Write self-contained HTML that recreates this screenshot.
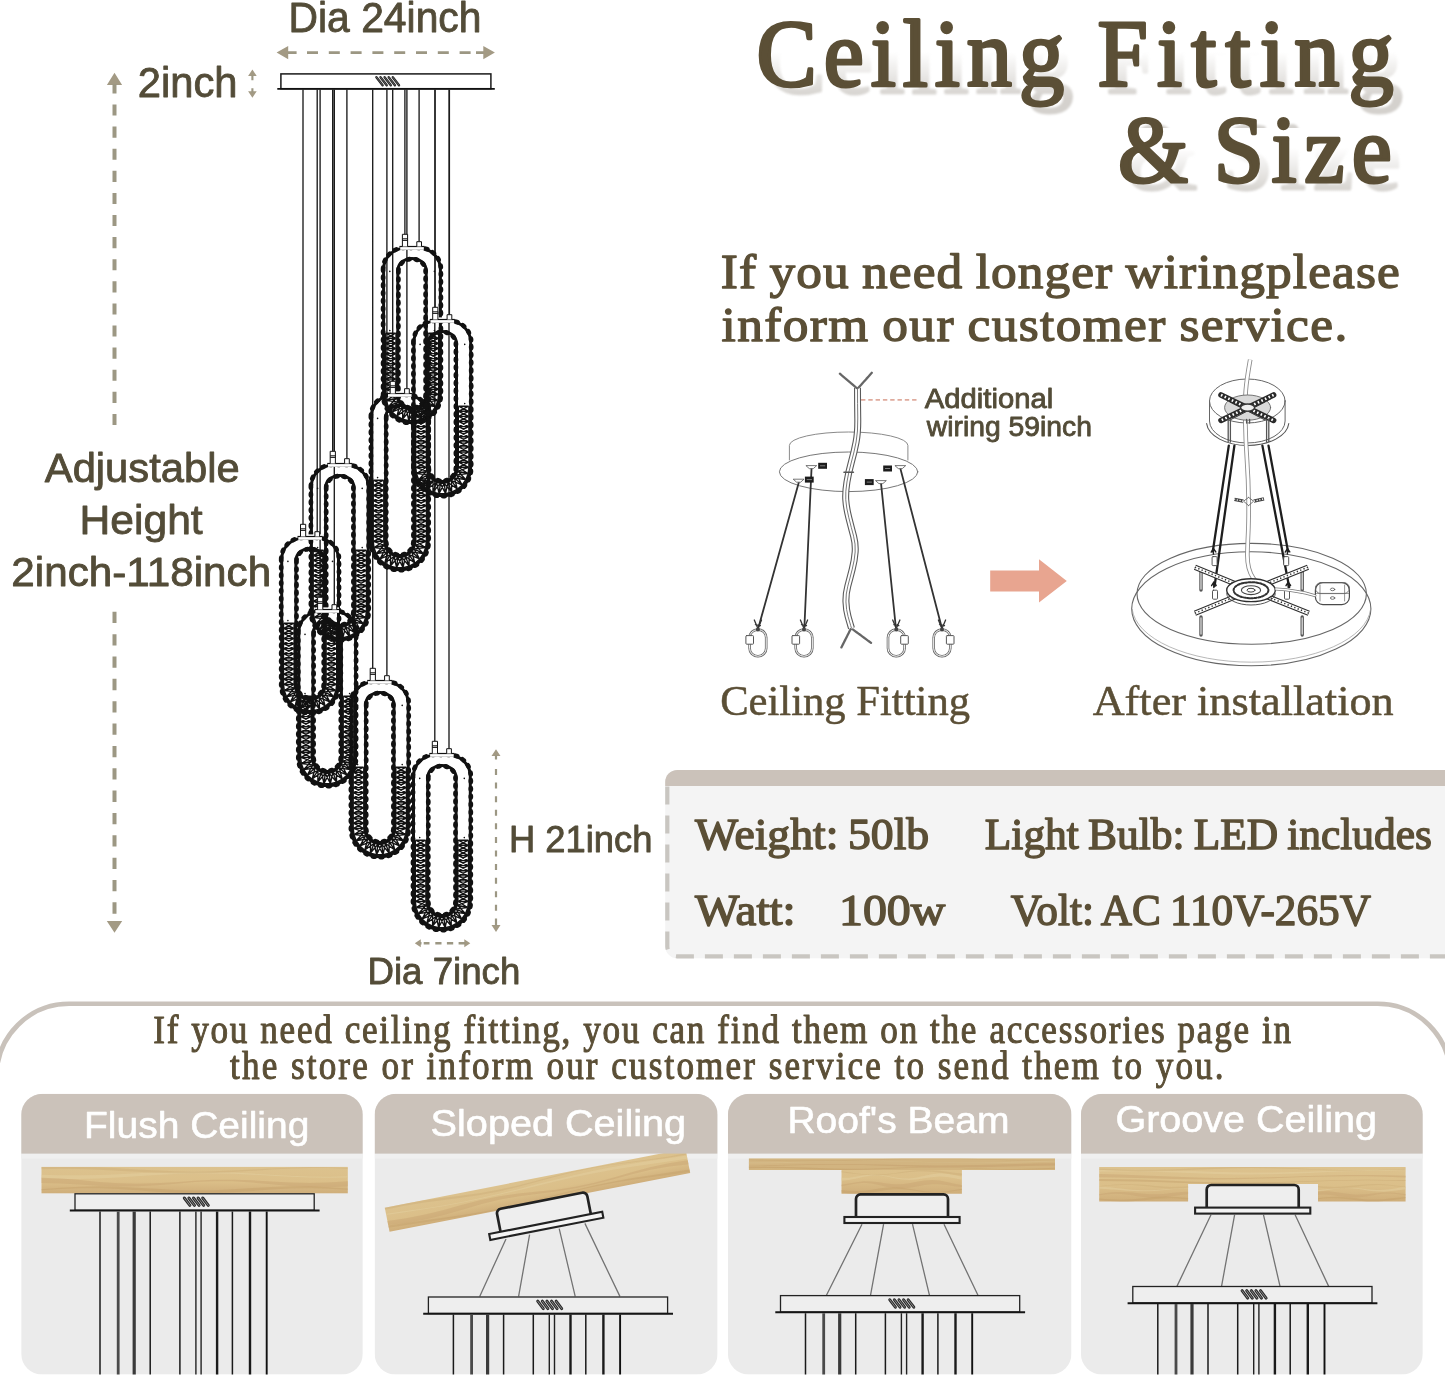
<!DOCTYPE html>
<html lang="en">
<head>
<meta charset="utf-8">
<title>Ceiling Fitting &amp; Size</title>
<style>
html,body{margin:0;padding:0;background:#fff;}
body{width:1445px;height:1377px;overflow:hidden;position:relative;}
#page{position:absolute;left:0;top:0;width:1445px;height:1377px;display:block;}
text{will-change:transform;}
.ss{font-family:"Liberation Sans",Arial,sans-serif;fill:#534c38;stroke:#534c38;stroke-linejoin:round;stroke-width:0;}
.sf{font-family:"Liberation Serif","Times New Roman",serif;fill:#5b4f36;stroke:#5b4f36;stroke-linejoin:round;stroke-width:0;}
</style>
</head>
<body>
<svg id="page" width="1445" height="1377" viewBox="0 0 1445 1377">
<defs><g id="ring"><path d="M3 23.9A21 21 0 0 1 24 2.9H38.8A21 21 0 0 1 59.8 23.9V148.9A28.4 28.4 0 0 1 3 148.9Z" fill="none" stroke="#111" stroke-width="3"/><path d="M2.5 23.9A21.5 21.5 0 0 1 24 2.4H38.8A21.5 21.5 0 0 1 60.3 23.9V148.9A28.9 28.9 0 0 1 2.5 148.9Z" fill="none" stroke="#111" stroke-width="4.7" stroke-linecap="round" stroke-dasharray="1.8 6"/><path d="M17.2 25.21A14.2 12.21 0 0 1 45.6 25.21V149A14.2 14.2 0 0 1 17.2 149Z" fill="none" stroke="#111" stroke-width="3"/><path d="M17.8 25.3A13.6 11.7 0 0 1 45 25.3V149A13.6 13.6 0 0 1 17.8 149Z" fill="none" stroke="#111" stroke-width="4.7" stroke-linecap="round" stroke-dasharray="1.8 6"/><path d="M19.6 -1V4.4H43.2V-1Z" fill="#fff"/><path d="M18.8 1.1H44" stroke="#111" stroke-width="1.2" fill="none"/><path d="M21.8 1.1V-11.1H27V1.1M21.8 -5H27M21.8 -6.6H27" stroke="#111" stroke-width="1" fill="#fff"/><path d="M36.2 1.1V-3.7H40.9V1.1" stroke="#111" stroke-width="1" fill="#fff"/><path d="M9.2 26h.01M53.8 26h.01M9.2 85.2h.01M53.8 85.2h.01" stroke="#111" stroke-width="1.6" stroke-linecap="round"/><path d="M15.2 87.8L5 87.8M15.2 87.8L5 92.89M5 87.8L15.2 92.89M15.2 92.89L5 92.89M15.2 92.89L5 97.98M5 92.89L15.2 97.98M15.2 97.98L5 97.98M15.2 97.98L5 103.08M5 97.98L15.2 103.08M15.2 103.08L5 103.08M15.2 103.08L5 108.17M5 103.08L15.2 108.17M15.2 108.17L5 108.17M15.2 108.17L5 113.26M5 108.17L15.2 113.26M15.2 113.26L5 113.26M15.2 113.26L5 118.35M5 113.26L15.2 118.35M15.2 118.35L5 118.35M15.2 118.35L5 123.44M5 118.35L15.2 123.44M15.2 123.44L5 123.44M15.2 123.44L5 128.53M5 123.44L15.2 128.53M15.2 128.53L5 128.53M15.2 128.53L5 133.62M5 128.53L15.2 133.62M15.2 133.62L5 133.62M15.2 133.62L5 138.72M5 133.62L15.2 138.72M15.2 138.72L5 138.72M15.2 138.72L5 143.81M5 138.72L15.2 143.81M15.2 143.81L5 143.81M15.2 143.81L5 148.9M5 143.81L15.2 148.9M15.2 148.9L5 148.9M15.2 148.9L5.77 155.22M5 148.9L15.67 152.78M15.67 152.78L5.77 155.22M15.67 152.78L8.02 161.17M5.77 155.22L17.06 156.43M17.06 156.43L8.02 161.17M17.06 156.43L11.64 166.41M8.02 161.17L19.27 159.64M19.27 159.64L11.64 166.41M19.27 159.64L16.4 170.63M11.64 166.41L22.2 162.23M22.2 162.23L16.4 170.63M22.2 162.23L22.04 173.58M16.4 170.63L25.66 164.05M25.66 164.05L22.04 173.58M25.66 164.05L28.22 175.11M22.04 173.58L29.45 164.98M29.45 164.98L28.22 175.11M29.45 164.98L34.58 175.11M28.22 175.11L33.35 164.98M33.35 164.98L34.58 175.11M33.35 164.98L40.76 173.58M34.58 175.11L37.14 164.05M37.14 164.05L40.76 173.58M37.14 164.05L46.4 170.63M40.76 173.58L40.6 162.23M40.6 162.23L46.4 170.63M40.6 162.23L51.16 166.41M46.4 170.63L43.53 159.64M43.53 159.64L51.16 166.41M43.53 159.64L54.78 161.17M51.16 166.41L45.74 156.43M45.74 156.43L54.78 161.17M45.74 156.43L57.03 155.22M54.78 161.17L47.13 152.78M47.13 152.78L57.03 155.22M47.13 152.78L57.8 148.9M57.03 155.22L47.6 148.9M47.6 148.9L57.8 148.9M47.6 148.9L57.8 143.81M57.8 148.9L47.6 143.81M47.6 143.81L57.8 143.81M47.6 143.81L57.8 138.72M57.8 143.81L47.6 138.72M47.6 138.72L57.8 138.72M47.6 138.72L57.8 133.62M57.8 138.72L47.6 133.62M47.6 133.62L57.8 133.62M47.6 133.62L57.8 128.53M57.8 133.62L47.6 128.53M47.6 128.53L57.8 128.53M47.6 128.53L57.8 123.44M57.8 128.53L47.6 123.44M47.6 123.44L57.8 123.44M47.6 123.44L57.8 118.35M57.8 123.44L47.6 118.35M47.6 118.35L57.8 118.35M47.6 118.35L57.8 113.26M57.8 118.35L47.6 113.26M47.6 113.26L57.8 113.26M47.6 113.26L57.8 108.17M57.8 113.26L47.6 108.17M47.6 108.17L57.8 108.17M47.6 108.17L57.8 103.07M57.8 108.17L47.6 103.07M47.6 103.07L57.8 103.07M47.6 103.07L57.8 97.98M57.8 103.07L47.6 97.98M47.6 97.98L57.8 97.98M47.6 97.98L57.8 92.89M57.8 97.98L47.6 92.89M47.6 92.89L57.8 92.89M47.6 92.89L57.8 87.8M57.8 92.89L47.6 87.8M47.6 87.8L57.8 87.8" stroke="#111" stroke-width="1.35" fill="none"/><path d="M15.5 87.8L15.5 92.89L15.5 97.98L15.5 103.08L15.5 108.17L15.5 113.26L15.5 118.35L15.5 123.44L15.5 128.53L15.5 133.62L15.5 138.72L15.5 143.81L15.5 148.9L15.96 152.71L17.32 156.29L19.5 159.44L22.37 161.99L25.76 163.77L29.48 164.68L33.32 164.68L37.04 163.77L40.43 161.99L43.3 159.44L45.48 156.29L46.84 152.71L47.3 148.9L47.3 143.81L47.3 138.72L47.3 133.62L47.3 128.53L47.3 123.44L47.3 118.35L47.3 113.26L47.3 108.17L47.3 103.07L47.3 97.98L47.3 92.89L47.3 87.8" stroke="#111" stroke-width="1.6" fill="none"/><path d="M4.7 87.8L4.7 92.89L4.7 97.98L4.7 103.08L4.7 108.17L4.7 113.26L4.7 118.35L4.7 123.44L4.7 128.53L4.7 133.62L4.7 138.72L4.7 143.81L4.7 148.9L5.48 155.29L7.76 161.31L11.41 166.61L16.23 170.87L21.93 173.86L28.18 175.41L34.62 175.41L40.87 173.86L46.57 170.87L51.39 166.61L55.04 161.31L57.32 155.29L58.1 148.9L58.1 143.81L58.1 138.72L58.1 133.62L58.1 128.53L58.1 123.44L58.1 118.35L58.1 113.26L58.1 108.17L58.1 103.07L58.1 97.98L58.1 92.89L58.1 87.8" stroke="#111" stroke-width="1.6" fill="none"/></g></defs>
<g id="size-diagram">
<rect x="280.9" y="73.9" width="210" height="14.8" fill="#fff" stroke="#1a1a1a" stroke-width="1.5"/>
<path d="M277.3 88.9H494.8" stroke="#111" stroke-width="1.8"/>
<path d="M376.4 77.2l6.2 8M380.5 77.2l6.2 8M384.6 77.2l6.2 8M388.7 77.2l6.2 8M392.8 77.2l6.2 8" stroke="#222" stroke-width="2.4" stroke-linecap="round"/>
<path d="M376.4 77.2l6.2 8M380.5 77.2l6.2 8M384.6 77.2l6.2 8M388.7 77.2l6.2 8M392.8 77.2l6.2 8" stroke="#777" stroke-width="0.7" stroke-linecap="round"/>
<path d="M404.9 89.6V234.4M419.1 89.6V241.8M435.2 89.6V307.4M449.4 89.6V314.8M392.7 89.6V381.4M406.9 89.6V388.8M332.7 89.6V451.4M346.9 89.6V458.8M303 89.6V524.4M317.2 89.6V531.8M320.1 89.6V597.4M334.3 89.6V604.8M372.7 89.6V668.4M386.9 89.6V675.8M434.8 89.6V741.4M449 89.6V748.8" stroke="#1c1c1c" stroke-width="1.35" fill="none"/>
<use href="#ring" x="380.6" y="245.4"/>
<use href="#ring" x="410.9" y="318.4"/>
<use href="#ring" x="368.4" y="392.4"/>
<use href="#ring" x="308.4" y="462.4"/>
<use href="#ring" x="278.7" y="535.4"/>
<use href="#ring" x="295.8" y="608.4"/>
<use href="#ring" x="348.4" y="679.4"/>
<use href="#ring" x="410.5" y="752.4"/>
<path d="M286 52.6H296.6M307 52.6H318M328.8 52.6H339.8M350.6 52.6H361.6M372.4 52.6H383.4M394.2 52.6H405.2M416 52.6H427M437.8 52.6H448.8M459.6 52.6H470.6M476 52.6H485" stroke="#9c9783" stroke-width="2.9" fill="none"/>
<path d="M276.6 52.6L288.2 46L288.2 59.2ZM494.9 52.6L483.3 59.2L483.3 46Z" fill="#a39a84"/>
<path d="M252.4 69.4L256.7 76L248.1 76ZM252.4 97.8L248.1 91.2L256.7 91.2Z" fill="#a39a84"/>
<path d="M252.4 75V80.2M252.4 88.2V92.5" stroke="#9c9783" stroke-width="2.1" fill="none"/>
<path d="M114.5 72.8L122.1 85L106.9 85ZM114.5 932.8L106.8 921L122.2 921Z" fill="#a39a84"/>
<path d="M114.5 84V93.5M114.5 104.5V115.6M114.5 126.6V137.7M114.5 148.7V159.8M114.5 170.8V181.9M114.5 192.9V204M114.5 215V226.1M114.5 237.1V248.2M114.5 259.2V270.3M114.5 281.3V292.4M114.5 303.4V314.5M114.5 325.5V336.6M114.5 347.6V358.7M114.5 369.7V380.8M114.5 391.8V402.9M114.5 413.9V425M114.5 611.8V623.1M114.5 634.15V645.45M114.5 656.5V667.8M114.5 678.85V690.15M114.5 701.2V712.5M114.5 723.55V734.85M114.5 745.9V757.2M114.5 768.25V779.55M114.5 790.6V801.9M114.5 812.95V824.25M114.5 835.3V846.6M114.5 857.65V868.95M114.5 880V891.3M114.5 902.35V913.65" stroke="#9c9783" stroke-width="4" fill="none"/>
<path d="M496 749.2L500.5 756L491.5 756ZM496 931.9L491.5 925.1L500.5 925.1Z" fill="#a39a84"/>
<path d="M496 755V759.6M496 769V775M496 782.58V788.58M496 796.16V802.16M496 809.74V815.74M496 823.32V829.32M496 836.9V842.9M496 850.48V856.48M496 864.06V870.06M496 877.64V883.64M496 891.22V897.22M496 904.8V910.8M496 918.6V926" stroke="#9c9783" stroke-width="2.2" fill="none"/>
<path d="M414.8 943.3L420.8 939.3L420.8 947.3ZM470.3 943.3L464.3 947.3L464.3 939.3Z" fill="#a39a84"/>
<path d="M420 943.3H421.5M423.7 943.3H429.5M435.3 943.3H441.5M446.9 943.3H453.2M458.6 943.3H465.2" stroke="#9c9783" stroke-width="2.4" fill="none"/>
<text class="ss" x="288.51" y="32.48" font-size="41.77" style="stroke-width:0.85px" textLength="193" lengthAdjust="spacingAndGlyphs">Dia 24inch</text>
<text class="ss" x="137.75" y="97.38" font-size="41.77" style="stroke-width:0.85px" textLength="99.86" lengthAdjust="spacingAndGlyphs">2inch</text>
<text class="ss" x="44.85" y="481.77" font-size="41.27" style="stroke-width:0.85px" textLength="194.78" lengthAdjust="spacingAndGlyphs">Adjustable</text>
<text class="ss" x="79.56" y="533.98" font-size="41.27" style="stroke-width:0.85px" textLength="123.13" lengthAdjust="spacingAndGlyphs">Height</text>
<text class="ss" x="11.32" y="586.18" font-size="41.27" style="stroke-width:0.85px" textLength="259.83" lengthAdjust="spacingAndGlyphs">2inch-118inch</text>
<text class="ss" x="509.05" y="852.38" font-size="36.77" style="stroke-width:0.85px" textLength="143.36" lengthAdjust="spacingAndGlyphs">H 21inch</text>
<text class="ss" x="367.51" y="984.18" font-size="37.27" style="stroke-width:0.85px" textLength="152.84" lengthAdjust="spacingAndGlyphs">Dia 7inch</text>
</g>
<defs><filter id="tsh" x="-5%" y="-20%" width="112%" height="150%" color-interpolation-filters="sRGB"><feGaussianBlur in="SourceAlpha" stdDeviation="1.3" result="b"/><feFlood flood-color="#d4d1cd"/><feComposite in2="b" operator="in"/></filter><linearGradient id="fd1" gradientUnits="userSpaceOnUse" x1="0" y1="52" x2="0" y2="98"><stop offset="0" stop-color="#000"/><stop offset="1" stop-color="#fff"/></linearGradient><linearGradient id="fd2" gradientUnits="userSpaceOnUse" x1="0" y1="148" x2="0" y2="193"><stop offset="0" stop-color="#000"/><stop offset="1" stop-color="#fff"/></linearGradient><mask id="tmask" maskUnits="userSpaceOnUse" x="740" y="0" width="705" height="220"><rect x="740" y="0" width="705" height="128" fill="url(#fd1)"/><rect x="740" y="128" width="705" height="92" fill="url(#fd2)"/></mask></defs>
<g mask="url(#tmask)"><use href="#title" x="9" y="7.5" filter="url(#tsh)"/></g>
<g id="title">
<text class="sf" transform="translate(756.46 85.9) scale(0.95 1)" font-size="95.08" style="stroke-width:3.2px" textLength="323.81" lengthAdjust="spacing">Ceiling</text>
<text class="sf" transform="translate(1097.61 85.9) scale(0.95 1)" font-size="95.08" style="stroke-width:3.2px" textLength="311.62" lengthAdjust="spacing">Fitting</text>
<text class="sf" transform="translate(1117.9 181.5) scale(0.95 1)" font-size="95.08" style="stroke-width:3.2px" textLength="53.74" lengthAdjust="spacing">&amp;</text>
<text class="sf" transform="translate(1213.76 181.5) scale(0.95 1)" font-size="95.08" style="stroke-width:3.2px" textLength="187.54" lengthAdjust="spacing">Size</text>
</g>
<g id="note">
<text class="sf" transform="translate(720.85 288.32) scale(1.05 1)" font-size="48.92" style="stroke-width:1.35px;word-spacing:-0.03em" textLength="646.55" lengthAdjust="spacing">If you need longer wiringplease</text>
<text class="sf" transform="translate(721.61 340.62) scale(1.05 1)" font-size="48.92" style="stroke-width:1.35px;word-spacing:-0.03em" textLength="595.9" lengthAdjust="spacing">inform our customer service.</text>
</g>
<g id="fitting" fill="none" stroke-linecap="round" stroke-linejoin="round">
<ellipse cx="848.6" cy="471.8" rx="69.2" ry="19.8" stroke="#777" stroke-width="1" fill="#fff"/>
<path d="M789.4 460V445.4A59.2 13.4 0 0 1 907.9 445.4V460" stroke="#8a8a8a" stroke-width="1"/>
<path d="M857.5 387.7Q857.5 404 857.75 418Q858 432 856.1 442Q854.2 452 851.4 462Q848.6 472 846.95 482Q845.3 492 845.75 499.65Q846.2 507.3 848.85 517.8Q851.5 528.3 853.6 536.2Q855.7 544.1 855.15 552Q854.6 559.9 852.25 569.1Q849.9 578.3 847.8 586.15Q845.7 594 845.95 601.9Q846.2 609.8 848.05 616.4Q849.9 623 850.7 625.6L851.5 628.2" stroke="#5a5a5a" stroke-width="7" stroke-linecap="butt"/>
<path d="M857.5 387.7Q857.5 404 857.75 418Q858 432 856.1 442Q854.2 452 851.4 462Q848.6 472 846.95 482Q845.3 492 845.75 499.65Q846.2 507.3 848.85 517.8Q851.5 528.3 853.6 536.2Q855.7 544.1 855.15 552Q854.6 559.9 852.25 569.1Q849.9 578.3 847.8 586.15Q845.7 594 845.95 601.9Q846.2 609.8 848.05 616.4Q849.9 623 850.7 625.6L851.5 628.2" stroke="#fff" stroke-width="4.8" stroke-linecap="butt"/>
<path d="M857.5 387.7Q857.5 404 857.75 418Q858 432 856.1 442Q854.2 452 851.4 462Q848.6 472 846.95 482Q845.3 492 845.75 499.65Q846.2 507.3 848.85 517.8Q851.5 528.3 853.6 536.2Q855.7 544.1 855.15 552Q854.6 559.9 852.25 569.1Q849.9 578.3 847.8 586.15Q845.7 594 845.95 601.9Q846.2 609.8 848.05 616.4Q849.9 623 850.7 625.6L851.5 628.2" stroke="#6a6a6a" stroke-width="0.9" stroke-linecap="butt"/>
<path d="M856.6 388L839.9 373.7M858.6 387.6L871.8 372.8M850.6 629.2L841.4 647.4M852.8 629.4L871.2 643" stroke="#666" stroke-width="2.3" stroke-dasharray="3.2 0.7"/>
<path d="M844 472.2h9.4" stroke="#555" stroke-width="1.6"/>
<path d="M798.8 482.6L758.6 627M811.5 469L804.4 627M881.1 484L895.8 627M900.5 469L941.6 627" stroke="#333" stroke-width="1.8"/>
<path d="M793.6 479.2h10.4l-3.4 3h-3.6z" stroke="#555" stroke-width="0.8" fill="#fff"/>
<path d="M806.3 465.6h10.4l-3.4 3h-3.6z" stroke="#555" stroke-width="0.8" fill="#fff"/>
<path d="M875.9 480.6h10.4l-3.4 3h-3.6z" stroke="#555" stroke-width="0.8" fill="#fff"/>
<path d="M895.3 465.6h10.4l-3.4 3h-3.6z" stroke="#555" stroke-width="0.8" fill="#fff"/>
<rect x="818.2" y="462.8" width="8.8" height="6" fill="#1c1c1c" stroke="none"/>
<path d="M820.4 465.8h4.4" stroke="#999" stroke-width="0.8"/>
<rect x="804.9" y="476.6" width="8.8" height="6" fill="#1c1c1c" stroke="none"/>
<path d="M807.1 479.6h4.4" stroke="#999" stroke-width="0.8"/>
<rect x="883.2" y="465.5" width="8.8" height="6" fill="#1c1c1c" stroke="none"/>
<path d="M885.4 468.5h4.4" stroke="#999" stroke-width="0.8"/>
<rect x="864.9" y="479.1" width="8.8" height="6" fill="#1c1c1c" stroke="none"/>
<path d="M867.1 482.1h4.4" stroke="#999" stroke-width="0.8"/>
<rect x="749.6" y="629.6" width="16.6" height="26.6" rx="8" stroke="#666" stroke-width="2.6"/>
<rect x="749.6" y="629.6" width="16.6" height="26.6" rx="8" stroke="#fff" stroke-width="1"/>
<rect x="745.9" y="635.6" width="7.6" height="8.6" rx="0.8" fill="#fff" stroke="#555" stroke-width="1"/>
<path d="M754.3 620l3.6 8.6M761.5 620l-3.6 8.6M755.4 624.6l5 1" stroke="#333" stroke-width="1.3"/>
<circle cx="757.9" cy="629.4" r="2" fill="#444" stroke="none"/>
<rect x="795.7" y="629.6" width="16.6" height="26.6" rx="8" stroke="#666" stroke-width="2.6"/>
<rect x="795.7" y="629.6" width="16.6" height="26.6" rx="8" stroke="#fff" stroke-width="1"/>
<rect x="792" y="635.6" width="7.6" height="8.6" rx="0.8" fill="#fff" stroke="#555" stroke-width="1"/>
<path d="M800.4 620l3.6 8.6M807.6 620l-3.6 8.6M801.5 624.6l5 1" stroke="#333" stroke-width="1.3"/>
<circle cx="804" cy="629.4" r="2" fill="#444" stroke="none"/>
<rect x="888" y="629.6" width="16.6" height="26.6" rx="8" stroke="#666" stroke-width="2.6"/>
<rect x="888" y="629.6" width="16.6" height="26.6" rx="8" stroke="#fff" stroke-width="1"/>
<rect x="900.7" y="635.6" width="7.6" height="8.6" rx="0.8" fill="#fff" stroke="#555" stroke-width="1"/>
<path d="M892.7 620l3.6 8.6M899.9 620l-3.6 8.6M893.8 624.6l5 1" stroke="#333" stroke-width="1.3"/>
<circle cx="896.3" cy="629.4" r="2" fill="#444" stroke="none"/>
<rect x="933.7" y="629.6" width="16.6" height="26.6" rx="8" stroke="#666" stroke-width="2.6"/>
<rect x="933.7" y="629.6" width="16.6" height="26.6" rx="8" stroke="#fff" stroke-width="1"/>
<rect x="946.4" y="635.6" width="7.6" height="8.6" rx="0.8" fill="#fff" stroke="#555" stroke-width="1"/>
<path d="M938.4 620l3.6 8.6M945.6 620l-3.6 8.6M939.5 624.6l5 1" stroke="#333" stroke-width="1.3"/>
<circle cx="942" cy="629.4" r="2" fill="#444" stroke="none"/>
</g>
<path d="M861 399.9H918" stroke="#dfab9d" stroke-width="1.8" stroke-dasharray="4.4 2.9" fill="none"/>
<text class="ss" x="924.87" y="408.27" font-size="28.27" style="stroke-width:0.85px" textLength="128.36" lengthAdjust="spacingAndGlyphs">Additional</text>
<text class="ss" x="926.76" y="435.88" font-size="28.27" style="stroke-width:0.85px" textLength="165.22" lengthAdjust="spacingAndGlyphs">wiring 59inch</text>
<path d="M990.2 570.4H1039V559.2L1066.8 580.9L1039 602.6V591.4H990.2Z" fill="#e8a590"/>
<g id="installed" fill="none" stroke-linecap="round" stroke-linejoin="round">
<ellipse cx="1251.7" cy="593.8" rx="114.7" ry="50.4" stroke="#666" stroke-width="1.1"/>
<ellipse cx="1251.3" cy="608.8" rx="119.6" ry="57" stroke="#666" stroke-width="1.1"/>
<path d="M1132.2 612A119.4 56 0 0 0 1370.6 612" stroke="#999" stroke-width="0.7" transform="translate(0 -2.6)"/>
<ellipse cx="1247.3" cy="401" rx="37.8" ry="22" stroke="#666" stroke-width="1"/>
<path d="M1209.5 401V421A37.8 22 0 0 0 1285.1 421V401" stroke="#666" stroke-width="1"/>
<path d="M1206.6 416.5A41.2 23.6 0 0 0 1288.8 416.5" stroke="#555" stroke-width="1.1" transform="translate(0 7)"/>
<path d="M1250.2 359.6Q1246.6 380 1245.8 390.5Q1245 401 1245.3 420.5Q1245.6 440 1247 460Q1248.4 480 1248.6 500Q1248.8 520 1248.2 532.5Q1247.6 545 1247.4 553.5Q1247.2 562 1248.8 568Q1250.4 574 1253.2 578Q1256 582 1258 584L1260 586" stroke="#8d8d8d" stroke-width="4.6" stroke-linecap="butt"/>
<path d="M1250.2 359.6Q1246.6 380 1245.8 390.5Q1245 401 1245.3 420.5Q1245.6 440 1247 460Q1248.4 480 1248.6 500Q1248.8 520 1248.2 532.5Q1247.6 545 1247.4 553.5Q1247.2 562 1248.8 568Q1250.4 574 1253.2 578Q1256 582 1258 584L1260 586" stroke="#fff" stroke-width="2.8" stroke-linecap="butt"/>
<ellipse cx="1247.6" cy="407.6" rx="23" ry="12.6" stroke="#666" stroke-width="0.9" fill="#d9d9d9"/>
<path d="M1221 395L1273.6 420.4M1273.6 395L1221 420.4" stroke="#2a2a2a" stroke-width="5.6"/>
<path d="M1221 395L1273.6 420.4M1273.6 395L1221 420.4" stroke="#fff" stroke-width="2.6" stroke-dasharray="1.6 2.4" stroke-linecap="butt"/>
<path d="M1230 398.6L1265 416.6M1265 398.6L1230 416.6" stroke="#333" stroke-width="1" transform="translate(0 3.4)"/>
<ellipse cx="1247.6" cy="407.6" rx="7" ry="3.6" stroke="#333" stroke-width="1.3" fill="#eee"/>
<path d="M1228.2 419V441.5M1230.4 420V442M1266.6 420V442M1268.8 419V441.5M1246.6 419.5V423M1249.6 419.5V423" stroke="#555" stroke-width="1.3"/>
<path d="M1228.8 445.6L1212.8 551.4M1234.4 445.6L1214.6 586.2M1262.4 445.6L1289.2 587.2M1268.5 445.6L1288 551.4" stroke="#1e1e1e" stroke-width="2.3"/>
<path d="M1248.6 497.4l-5 3.8l5 4.4M1248.6 497.4l5 3.8l-5 4.4" stroke="#666" stroke-width="0.9"/>
<path d="M1243.4 501.2L1234.4 499.4M1253.8 501.2L1264 498.8" stroke="#444" stroke-width="3.4" stroke-linecap="butt"/>
<path d="M1243.4 501.2L1234.4 499.4M1253.8 501.2L1264 498.8" stroke="#fff" stroke-width="1.4" stroke-dasharray="1.2 1.6" stroke-linecap="butt"/>
<path d="M1201 572V590M1302.2 572V590M1201 617V635M1302.2 617V635" stroke="#555" stroke-width="3.4"/>
<path d="M1201 573V589M1302.2 573V589M1201 618V634M1302.2 618V634" stroke="#e0e0e0" stroke-width="1.3"/>
<path d="M1194.9 567.2L1251 590.2M1308 567.2L1251 590.2M1194.9 613.2L1251 590.2M1308.8 613.2L1251 590.2" stroke="#2e2e2e" stroke-width="5.4" stroke-linecap="butt"/>
<path d="M1194.9 567.2L1251 590.2M1308 567.2L1251 590.2M1194.9 613.2L1251 590.2M1308.8 613.2L1251 590.2" stroke="#fff" stroke-width="3.2" stroke-linecap="butt"/>
<path d="M1194.9 567.2L1251 590.2M1308 567.2L1251 590.2M1194.9 613.2L1251 590.2M1308.8 613.2L1251 590.2" stroke="#333" stroke-width="1.5" stroke-dasharray="1.3 2.3" stroke-linecap="butt"/>
<ellipse cx="1251" cy="590.2" rx="24.3" ry="11.4" fill="#fff" stroke="#2e2e2e" stroke-width="1.4"/>
<path d="M1226.7 591A24.3 11.4 0 0 0 1275.3 591" stroke="#444" stroke-width="0.9" transform="translate(0 2.6)"/>
<ellipse cx="1251" cy="590.2" rx="17.4" ry="8" stroke="#333" stroke-width="2" stroke-dasharray="2.2 1.5"/>
<ellipse cx="1251" cy="590.2" rx="9.6" ry="4.4" stroke="#444" stroke-width="1.1"/>
<ellipse cx="1251" cy="590.2" rx="4" ry="1.9" stroke="#444" stroke-width="1"/>
<rect x="1212.1" y="556.6" width="5" height="9" rx="1" fill="#fff" stroke="#444" stroke-width="0.9"/>
<path d="M1213.4 548.5l-2.2 3.6M1213.4 548.5l2.4 3.4M1213.4 550v4" stroke="#1e1e1e" stroke-width="1.4"/>
<rect x="1283.7" y="556.6" width="5" height="9" rx="1" fill="#fff" stroke="#444" stroke-width="0.9"/>
<path d="M1287.4 548.5l-2.2 3.6M1287.4 548.5l2.4 3.4M1287.4 550v4" stroke="#1e1e1e" stroke-width="1.4"/>
<rect x="1212.5" y="590.2" width="5" height="9" rx="1" fill="#fff" stroke="#444" stroke-width="0.9"/>
<path d="M1213.8 582.1l-2.2 3.6M1213.8 582.1l2.4 3.4M1213.8 583.6v4" stroke="#1e1e1e" stroke-width="1.4"/>
<rect x="1284.5" y="590.2" width="5" height="9" rx="1" fill="#fff" stroke="#444" stroke-width="0.9"/>
<path d="M1288.2 582.1l-2.2 3.6M1288.2 582.1l2.4 3.4M1288.2 583.6v4" stroke="#1e1e1e" stroke-width="1.4"/>
<rect x="1315.4" y="582.6" width="34" height="22" rx="7.5" stroke="#4a4a4a" stroke-width="1.2" fill="#fff"/>
<path d="M1316.4 593.4H1348.6M1320 585V601M1344.6 585V601" stroke="#777" stroke-width="0.8"/>
<rect x="1315.4" y="582.6" width="34" height="11" rx="5.5" stroke="#666" stroke-width="0.8"/>
<ellipse cx="1332.6" cy="589.4" rx="2.2" ry="1.3" stroke="#555" stroke-width="0.8"/><ellipse cx="1332.6" cy="598" rx="2.2" ry="1.3" stroke="#555" stroke-width="0.8"/>
<path d="M1276 589Q1296 590 1315 595.6" stroke="#777" stroke-width="3"/>
<path d="M1276 589Q1296 590 1315 595.6" stroke="#fff" stroke-width="1.5"/>
</g>
<text class="sf" x="720.19" y="715.45" font-size="43.23" style="stroke-width:0.5px" textLength="249.81" lengthAdjust="spacingAndGlyphs">Ceiling Fitting</text>
<text class="sf" x="1092.66" y="715.45" font-size="43.23" style="stroke-width:0.5px" textLength="301.05" lengthAdjust="spacingAndGlyphs">After installation</text>
<g id="specs">
<path d="M665.2 946.3V781.9A12 12 0 0 1 677.2 769.9H1445V958.3H677.2A12 12 0 0 1 665.2 946.3Z" fill="#f4f4f4"/>
<path d="M665.2 786V781.9A12 12 0 0 1 677.2 769.9H1445V786Z" fill="#cbc2ba"/>
<path d="M667.3 786V946.3A10 10 0 0 0 677.3 956.3H1445" fill="none" stroke="#c9c6c1" stroke-width="4.2" stroke-dasharray="18 11" stroke-dashoffset="-0.5"/>
<text class="sf" x="694.96" y="849" font-size="43.35" style="stroke-width:1.4px;word-spacing:-0.04em" textLength="234.2" lengthAdjust="spacingAndGlyphs">Weight: 50lb</text>
<text class="sf" x="984.84" y="849" font-size="43.35" style="stroke-width:1.4px;word-spacing:-0.04em" textLength="447.01" lengthAdjust="spacingAndGlyphs">Light Bulb: LED includes</text>
<text class="sf" x="694.96" y="925.1" font-size="43.35" style="stroke-width:1.4px" textLength="100.73" lengthAdjust="spacingAndGlyphs">Watt:</text>
<text class="sf" x="838.93" y="925.1" font-size="43.35" style="stroke-width:1.4px" textLength="106.49" lengthAdjust="spacingAndGlyphs">100w</text>
<text class="sf" x="1010.73" y="925.1" font-size="43.35" style="stroke-width:1.4px;word-spacing:-0.04em" textLength="360.18" lengthAdjust="spacingAndGlyphs">Volt: AC 110V-265V</text>
</g>
<g id="accessories">
<rect x="-3.4" y="1003.75" width="1453.6" height="440" rx="72.5" fill="#fff" stroke="#c9c2bb" stroke-width="4.7"/>
<text class="sf" transform="translate(153.23 1043.4) scale(0.9 1)" font-size="39.06" style="stroke-width:1px;word-spacing:0.02em" textLength="1264.22" lengthAdjust="spacing">If you need ceiling fitting, you can find them on the accessories page in</text>
<text class="sf" transform="translate(230.08 1078.9) scale(0.9 1)" font-size="39.06" style="stroke-width:1px;word-spacing:0.02em" textLength="1103.92" lengthAdjust="spacing">the store or inform our customer service to send them to you.</text>
<defs>
<linearGradient id="wood" x1="0" y1="0" x2="0" y2="1"><stop offset="0" stop-color="#dcc28e"/><stop offset="0.55" stop-color="#dbbf89"/><stop offset="1" stop-color="#cfae7a"/></linearGradient>
<g id="lamp"><rect x="0" y="0" width="239.2" height="16.5" fill="#eeeeee" stroke="#222" stroke-width="1.3"/><path d="M-5.2 16.7H244.6" stroke="#151515" stroke-width="2.1" fill="none"/><path d="M109.3 4.2l5.6 7.4M113.9 4.2l5.6 7.4M118.5 4.2l5.6 7.4M123.1 4.2l5.6 7.4M127.7 4.2l5.6 7.4" stroke="#2a2a2a" stroke-width="3" stroke-linecap="round" fill="none"/><path d="M109.3 4.2l5.6 7.4M113.9 4.2l5.6 7.4M118.5 4.2l5.6 7.4M123.1 4.2l5.6 7.4M127.7 4.2l5.6 7.4" stroke="#8a8a8a" stroke-width="1" stroke-linecap="round" fill="none"/><path d="M25 17.6V200" stroke="#1a1a1a" stroke-width="1.5" fill="none"/><path d="M43.2 17.6V200" stroke="#4a4a4a" stroke-width="2.8" fill="none"/><path d="M59.2 17.6V200" stroke="#3a3a3a" stroke-width="3.2" fill="none"/><path d="M75.2 17.6V200" stroke="#1a1a1a" stroke-width="1.5" fill="none"/><path d="M104.9 17.6V200" stroke="#1a1a1a" stroke-width="1.5" fill="none"/><path d="M120.9 17.6V200" stroke="#222" stroke-width="1.4" fill="none"/><path d="M126.1 17.6V200" stroke="#222" stroke-width="1.4" fill="none"/><path d="M142.1 17.6V200" stroke="#1a1a1a" stroke-width="2.4" fill="none"/><path d="M157.4 17.6V200" stroke="#1a1a1a" stroke-width="1.5" fill="none"/><path d="M175 17.6V200" stroke="#1a1a1a" stroke-width="2.4" fill="none"/><path d="M191.7 17.6V200" stroke="#111" stroke-width="1.9" fill="none"/></g><g id="mount"><path d="M0 23V4.5A4.5 4.5 0 0 1 4.5 0H87.5A4.5 4.5 0 0 1 92 4.5V23" fill="#eeeeee" stroke="#222" stroke-width="2.7"/><rect x="-11.6" y="22.6" width="115.2" height="6" fill="#f4f4f4" stroke="#222" stroke-width="2.1"/></g>
</defs>
<clipPath id="c1"><rect x="21.2" y="1093.8" width="341.6" height="280.8" rx="21"/></clipPath>
<clipPath id="c2"><rect x="374.6" y="1093.8" width="343" height="280.8" rx="21"/></clipPath>
<clipPath id="c3"><rect x="727.9" y="1093.8" width="343.6" height="280.8" rx="21"/></clipPath>
<clipPath id="c4"><rect x="1080.9" y="1093.8" width="341.9" height="280.8" rx="21"/></clipPath>
<g clip-path="url(#c1)">
<rect x="21.2" y="1093.8" width="341.6" height="280.8" fill="#ebebeb"/>
<rect x="21.2" y="1153.6" width="341.6" height="5" fill="#f0f0f0"/>
<rect x="41.5" y="1166.9" width="306.3" height="26.4" fill="url(#wood)"/><path d="M41.5 1174.75L60.64 1175.27L79.79 1175.34L98.93 1174.95L118.08 1174.19L137.22 1173.25L156.36 1172.35L175.51 1171.71L194.65 1171.49L213.79 1171.77L232.94 1172.51L252.08 1173.57L271.23 1174.74L290.37 1175.79L309.51 1176.48L328.66 1176.67L347.8 1176.32L347.8 1177.54L328.66 1177.72L309.51 1177.42L290.37 1176.71L271.23 1175.74L252.08 1174.71L232.94 1173.86L213.79 1173.4L194.65 1173.44L175.51 1173.99L156.36 1174.97L137.22 1176.19L118.08 1177.41L98.93 1178.4L79.79 1178.95L60.64 1178.96L41.5 1178.44Z" fill="#e4cf9f" opacity="0.5"/><path d="M41.5 1177.78L60.64 1178.54L79.79 1180.11L98.93 1181.93L118.08 1183.33L137.22 1183.84L156.36 1183.35L175.51 1182.13L194.65 1180.75L213.79 1179.8L232.94 1179.66L252.08 1180.35L271.23 1181.51L290.37 1182.59L309.51 1183.03L328.66 1182.57L347.8 1181.3L347.8 1186.35L328.66 1187.2L309.51 1187.09L290.37 1185.99L271.23 1184.24L252.08 1182.47L232.94 1181.32L213.79 1181.18L194.65 1182.08L175.51 1183.64L156.36 1185.24L137.22 1186.29L118.08 1186.43L98.93 1185.7L79.79 1184.51L60.64 1183.42L41.5 1182.97Z" fill="#c9a673" opacity="0.5"/><path d="M41.5 1189.18L60.64 1187.76L79.79 1186.69L98.93 1186.31L118.08 1186.68L137.22 1187.65L156.36 1188.86L175.51 1189.89L194.65 1190.38L213.79 1190.16L232.94 1189.3L252.08 1188.09L271.23 1186.96L290.37 1186.29L309.51 1186.36L328.66 1187.17L347.8 1188.51L347.8 1189.7L328.66 1188.66L309.51 1188.2L290.37 1188.49L271.23 1189.49L252.08 1190.92L232.94 1192.34L213.79 1193.3L194.65 1193.3L175.51 1192.95L156.36 1191.72L137.22 1190.23L118.08 1188.92L98.93 1188.19L79.79 1188.23L60.64 1188.98L41.5 1190.17Z" fill="#c49f6a" opacity="0.45"/><path d="M41.5 1167.11L60.64 1166.9L79.79 1166.9L98.93 1167.27L118.08 1168.26L137.22 1169.42L156.36 1170.49L175.51 1171.24L194.65 1171.5L213.79 1171.24L232.94 1170.53L252.08 1169.55L271.23 1168.54L290.37 1167.75L309.51 1167.37L328.66 1167.5L347.8 1168.12L347.8 1168.71L328.66 1168.12L309.51 1168.07L290.37 1168.58L271.23 1169.54L252.08 1170.76L232.94 1171.96L213.79 1172.89L194.65 1173.37L175.51 1173.29L156.36 1172.7L137.22 1171.74L118.08 1170.63L98.93 1169.64L79.79 1168.98L60.64 1168.81L41.5 1169.16Z" fill="#cdac78" opacity="0.45"/>
<use href="#lamp" x="75" y="1193.8"/>
<rect x="21.2" y="1093.8" width="341.6" height="59.8" fill="#cbc2ba"/>
</g>
<g clip-path="url(#c2)">
<rect x="374.6" y="1093.8" width="343" height="280.8" fill="#ebebeb"/>
<rect x="374.6" y="1153.6" width="343" height="5" fill="#f0f0f0"/>
<g transform="rotate(-11.1 537.5 1190.3)"><rect x="384.3" y="1178" width="306.4" height="24.6" fill="url(#wood)"/><path d="M384.3 1184.15L403.45 1185.22L422.6 1186.19L441.75 1186.88L460.9 1187.15L480.05 1186.96L499.2 1186.32L518.35 1185.37L537.5 1184.26L556.65 1183.21L575.8 1182.39L594.95 1181.95L614.1 1181.95L633.25 1182.37L652.4 1183.11L671.55 1184.01L690.7 1184.89L690.7 1188.31L671.55 1187.35L652.4 1186.3L633.25 1185.35L614.1 1184.68L594.95 1184.39L575.8 1184.53L556.65 1185.05L537.5 1185.82L518.35 1186.68L499.2 1187.43L480.05 1187.91L460.9 1188.03L441.75 1187.74L422.6 1187.12L403.45 1186.28L384.3 1185.39Z" fill="#e4cf9f" opacity="0.5"/><path d="M384.3 1191.47L403.45 1192.41L422.6 1192.46L441.75 1191.53L460.9 1190.11L480.05 1188.98L499.2 1188.81L518.35 1189.82L537.5 1191.61L556.65 1193.38L575.8 1194.31L594.95 1193.97L614.1 1192.55L633.25 1190.73L652.4 1189.38L671.55 1189.06L690.7 1189.82L690.7 1193.8L671.55 1192.37L652.4 1191.98L633.25 1192.7L614.1 1194.04L594.95 1195.22L575.8 1195.59L556.65 1194.96L537.5 1193.71L518.35 1192.58L499.2 1192.28L480.05 1193.1L460.9 1194.73L441.75 1196.42L422.6 1197.35L403.45 1197.03L384.3 1195.59Z" fill="#c9a673" opacity="0.5"/><path d="M384.3 1196.06L403.45 1196.96L422.6 1198.14L441.75 1199.34L460.9 1200.31L480.05 1200.82L499.2 1200.79L518.35 1200.22L537.5 1199.28L556.65 1198.17L575.8 1197.18L594.95 1196.52L614.1 1196.33L633.25 1196.65L652.4 1197.38L671.55 1198.3L690.7 1199.19L690.7 1201.58L671.55 1200.43L652.4 1199.22L633.25 1198.21L614.1 1197.62L594.95 1197.58L575.8 1198.07L556.65 1198.95L537.5 1200.01L518.35 1201L499.2 1201.67L480.05 1201.88L460.9 1201.59L441.75 1200.88L422.6 1199.96L403.45 1199.07L384.3 1198.44Z" fill="#c49f6a" opacity="0.45"/><path d="M384.3 1178.01L403.45 1178L422.6 1178.23L441.75 1179.45L460.9 1180.87L480.05 1181.97L499.2 1182.34L518.35 1181.88L537.5 1180.81L556.65 1179.56L575.8 1178.66L594.95 1178.48L614.1 1179.08L633.25 1180.26L652.4 1181.53L671.55 1182.4L690.7 1182.5L690.7 1183.79L671.55 1183.43L652.4 1182.34L633.25 1180.9L614.1 1179.64L594.95 1179.04L575.8 1179.33L556.65 1180.41L537.5 1181.88L518.35 1183.23L499.2 1183.96L480.05 1183.83L460.9 1182.93L441.75 1181.63L422.6 1180.44L403.45 1179.83L384.3 1180.02Z" fill="#cdac78" opacity="0.45"/></g>
<path d="M506 1239L479.7 1296.4M529.6 1234.6L518.6 1296.4M559.2 1228.6L575.2 1296.4M584.9 1223.4L619.9 1296.4" stroke="#737373" stroke-width="1.3" fill="none"/>
<use href="#mount" transform="translate(496.2 1209.6) rotate(-11.1)"/>
<use href="#lamp" x="428.4" y="1297"/>
<rect x="374.6" y="1093.8" width="343" height="59.8" fill="#cbc2ba"/>
</g>
<g clip-path="url(#c3)">
<rect x="727.9" y="1093.8" width="343.6" height="280.8" fill="#ebebeb"/>
<rect x="727.9" y="1153.6" width="343.6" height="5" fill="#f0f0f0"/>
<path d="M748.9 1158.4H1055V1170H961.9V1193.7H841.5V1170H748.9Z" fill="url(#wood)"/><path d="M748.9 1162.24L768.03 1162.21L787.16 1161.91L806.29 1161.46L825.42 1160.99L844.56 1160.67L863.69 1160.61L882.82 1160.82L901.95 1161.26L921.08 1161.79L940.21 1162.26L959.34 1162.52L978.48 1162.48L997.61 1162.13L1016.74 1161.56L1035.87 1160.92L1055 1160.37L1055 1161.85L1035.87 1162.27L1016.74 1162.75L997.61 1163.15L978.48 1163.32L959.34 1163.21L940.21 1162.82L921.08 1162.25L901.95 1161.67L882.82 1161.23L863.69 1161.07L844.56 1161.24L825.42 1161.69L806.29 1162.31L787.16 1162.94L768.03 1163.41L748.9 1163.6Z" fill="#e4cf9f" opacity="0.5"/><path d="M748.9 1165.71L768.03 1165.32L787.16 1164.81L806.29 1164.34L825.42 1164.04L844.56 1163.98L863.69 1164.17L882.82 1164.54L901.95 1164.97L921.08 1165.31L940.21 1165.46L959.34 1165.34L978.48 1164.98L997.61 1164.44L1016.74 1163.88L1035.87 1163.44L1055 1163.24L1055 1165.43L1035.87 1165.72L1016.74 1166.2L997.61 1166.73L978.48 1167.16L959.34 1167.37L940.21 1167.29L921.08 1166.91L901.95 1166.32L882.82 1165.66L863.69 1165.08L844.56 1164.72L825.42 1164.67L806.29 1164.92L787.16 1165.41L768.03 1166L748.9 1166.53Z" fill="#c9a673" opacity="0.5"/><path d="M748.9 1167.1L768.03 1166.71L787.16 1166.91L806.29 1167.56L825.42 1168.32L844.56 1168.78L863.69 1168.73L882.82 1168.22L901.95 1167.56L921.08 1167.15L940.21 1167.22L959.34 1167.77L978.48 1168.51L997.61 1169.04L1016.74 1169.05L1035.87 1168.52L1055 1167.67L1055 1168.74L1035.87 1169.39L1016.74 1169.73L997.61 1169.54L978.48 1168.9L959.34 1168.12L940.21 1167.61L921.08 1167.64L901.95 1168.23L882.82 1169.09L863.69 1169.8L844.56 1170L825.42 1169.67L806.29 1168.95L787.16 1168.26L768.03 1167.95L748.9 1168.17Z" fill="#c49f6a" opacity="0.45"/><path d="M748.9 1159.52L768.03 1159.94L787.16 1160.24L806.29 1160.36L825.42 1160.25L844.56 1159.95L863.69 1159.52L882.82 1159.04L901.95 1158.62L921.08 1158.4L940.21 1158.4L959.34 1158.52L978.48 1158.91L997.61 1159.42L1016.74 1159.94L1035.87 1160.38L1055 1160.64L1055 1160.97L1035.87 1160.78L1016.74 1160.42L997.61 1159.99L978.48 1159.57L959.34 1159.28L940.21 1159.18L921.08 1159.29L901.95 1159.61L882.82 1160.06L863.69 1160.56L844.56 1160.99L825.42 1161.26L806.29 1161.31L787.16 1161.13L768.03 1160.74L748.9 1160.23Z" fill="#cdac78" opacity="0.45"/><rect x="748.9" y="1158.4" width="306.1" height="11.6" fill="#b08a58" opacity="0.22"/><path d="M841.5 1177.84L849.02 1177.64L856.55 1176.6L864.08 1175.33L871.6 1174.54L879.12 1174.7L886.65 1175.77L894.17 1177.21L901.7 1178.28L909.23 1178.38L916.75 1177.39L924.27 1175.73L931.8 1174.14L939.33 1173.37L946.85 1173.75L954.38 1175.07L961.9 1176.7L961.9 1179.66L954.38 1178.3L946.85 1177.06L939.33 1176.6L931.8 1177.13L924.27 1178.33L916.75 1179.53L909.23 1180.05L901.7 1179.54L894.17 1178.18L886.65 1176.6L879.12 1175.58L871.6 1175.64L864.08 1176.78L856.55 1178.5L849.02 1180.01L841.5 1180.63Z" fill="#e4cf9f" opacity="0.5"/><path d="M841.5 1184.82L849.02 1183.53L856.55 1182.16L864.08 1181.35L871.6 1181.43L879.12 1182.29L886.65 1183.43L894.17 1184.19L901.7 1184.13L909.23 1183.18L916.75 1181.74L924.27 1180.47L931.8 1179.99L939.33 1180.59L946.85 1182.07L954.38 1183.85L961.9 1185.21L961.9 1187.04L954.38 1186.26L946.85 1185.12L939.33 1184.27L931.8 1184.21L924.27 1185.06L916.75 1186.48L909.23 1187.83L901.7 1188.47L894.17 1188.04L886.65 1186.66L879.12 1184.88L871.6 1183.42L864.08 1182.86L856.55 1183.4L849.02 1184.72L841.5 1186.21Z" fill="#c9a673" opacity="0.5"/><path d="M841.5 1190.01L849.02 1190.85L856.55 1191.11L864.08 1190.68L871.6 1189.72L879.12 1188.56L886.65 1187.62L894.17 1187.25L901.7 1187.62L909.23 1188.64L916.75 1190L924.27 1191.27L931.8 1192.05L939.33 1192.07L946.85 1191.34L954.38 1190.1L961.9 1188.75L961.9 1189.95L954.38 1191.05L946.85 1192.12L939.33 1192.78L931.8 1192.79L924.27 1192.15L916.75 1191.1L909.23 1190.02L901.7 1189.32L894.17 1189.28L886.65 1189.96L879.12 1191.15L871.6 1192.49L864.08 1193.53L856.55 1193.7L849.02 1193.53L841.5 1192.48Z" fill="#c49f6a" opacity="0.45"/><path d="M841.5 1171.27L849.02 1172.33L856.55 1173.39L864.08 1174.23L871.6 1174.67L879.12 1174.61L886.65 1174.07L894.17 1173.16L901.7 1172.09L909.23 1171.08L916.75 1170.35L924.27 1170.04L931.8 1170.22L939.33 1170.82L946.85 1171.69L954.38 1172.63L961.9 1173.41L961.9 1175.51L954.38 1174.64L946.85 1173.58L939.33 1172.54L931.8 1171.76L924.27 1171.38L916.75 1171.49L909.23 1172.03L901.7 1172.88L894.17 1173.82L886.65 1174.64L879.12 1175.15L871.6 1175.22L864.08 1174.84L856.55 1174.11L849.02 1173.19L841.5 1172.31Z" fill="#cdac78" opacity="0.45"/>
<path d="M862 1224.2L826.2 1295.8M883.6 1224.2L870.4 1295.8M912.5 1224.2L929.6 1295.8M944 1224.2L978.2 1295.8" stroke="#737373" stroke-width="1.3" fill="none"/>
<use href="#mount" x="856" y="1194.4"/>
<use href="#lamp" x="780.5" y="1295.6"/>
<rect x="727.9" y="1093.8" width="343.6" height="59.8" fill="#cbc2ba"/>
</g>
<g clip-path="url(#c4)">
<rect x="1080.9" y="1093.8" width="341.9" height="280.8" fill="#ebebeb"/>
<rect x="1080.9" y="1153.6" width="341.9" height="5" fill="#f0f0f0"/>
<path d="M1099.2 1166.9H1405.6V1201.5H1318V1184H1188.1V1201.5H1099.2Z" fill="url(#wood)"/><path d="M1099.2 1170.05L1118.35 1169.55L1137.5 1169.42L1156.65 1169.67L1175.8 1170.24L1194.95 1170.98L1214.1 1171.71L1233.25 1172.27L1252.4 1172.53L1271.55 1172.45L1290.7 1172.05L1309.85 1171.46L1329 1170.83L1348.15 1170.33L1367.3 1170.11L1386.45 1170.22L1405.6 1170.65L1405.6 1171.27L1386.45 1170.91L1367.3 1170.93L1348.15 1171.33L1329 1172.03L1309.85 1172.88L1290.7 1173.71L1271.55 1174.32L1252.4 1174.61L1233.25 1174.5L1214.1 1174.05L1194.95 1173.37L1175.8 1172.62L1156.65 1171.99L1137.5 1171.61L1118.35 1171.57L1099.2 1171.87Z" fill="#e4cf9f" opacity="0.5"/><path d="M1099.2 1174.1L1118.35 1174.53L1137.5 1175.21L1156.65 1176.03L1175.8 1176.84L1194.95 1177.5L1214.1 1177.9L1233.25 1177.99L1252.4 1177.77L1271.55 1177.29L1290.7 1176.65L1309.85 1176L1329 1175.45L1348.15 1175.12L1367.3 1175.06L1386.45 1175.26L1405.6 1175.67L1405.6 1177.42L1386.45 1176.74L1367.3 1176.29L1348.15 1176.17L1329 1176.38L1309.85 1176.86L1290.7 1177.52L1271.55 1178.24L1252.4 1178.86L1233.25 1179.29L1214.1 1179.45L1194.95 1179.33L1175.8 1178.96L1156.65 1178.46L1137.5 1177.93L1118.35 1177.49L1099.2 1177.27Z" fill="#c9a673" opacity="0.5"/><path d="M1099.2 1179.04L1118.35 1179.17L1137.5 1179.6L1156.65 1180.26L1175.8 1181.02L1194.95 1181.74L1214.1 1182.28L1233.25 1182.56L1252.4 1182.52L1271.55 1182.19L1290.7 1181.65L1309.85 1181.01L1329 1180.41L1348.15 1179.98L1367.3 1179.8L1386.45 1179.91L1405.6 1180.28L1405.6 1180.98L1386.45 1180.51L1367.3 1180.33L1348.15 1180.49L1329 1180.95L1309.85 1181.61L1290.7 1182.35L1271.55 1183.03L1252.4 1183.52L1233.25 1183.73L1214.1 1183.64L1194.95 1183.27L1175.8 1182.72L1156.65 1182.1L1137.5 1181.55L1118.35 1181.19L1099.2 1181.1Z" fill="#c49f6a" opacity="0.45"/><path d="M1099.2 1168.66L1118.35 1169.36L1137.5 1169.74L1156.65 1169.66L1175.8 1169.14L1194.95 1168.34L1214.1 1167.52L1233.25 1166.95L1252.4 1166.9L1271.55 1167.18L1290.7 1167.95L1309.85 1168.9L1329 1169.74L1348.15 1170.22L1367.3 1170.21L1386.45 1169.7L1405.6 1168.87L1405.6 1169.3L1386.45 1170.09L1367.3 1170.6L1348.15 1170.68L1329 1170.3L1309.85 1169.6L1290.7 1168.81L1271.55 1168.22L1252.4 1168.01L1233.25 1168.29L1214.1 1168.98L1194.95 1169.86L1175.8 1170.68L1156.65 1171.16L1137.5 1171.15L1118.35 1170.65L1099.2 1169.8Z" fill="#cdac78" opacity="0.45"/><path d="M1099.2 1186.59L1104.76 1186.88L1110.31 1187.34L1115.87 1187.92L1121.42 1188.55L1126.98 1189.16L1132.54 1189.69L1138.09 1190.08L1143.65 1190.29L1149.21 1190.29L1154.76 1190.11L1160.32 1189.75L1165.88 1189.28L1171.43 1188.75L1176.99 1188.23L1182.54 1187.78L1188.1 1187.45L1188.1 1188.15L1182.54 1188.42L1176.99 1188.84L1171.43 1189.37L1165.88 1189.94L1160.32 1190.48L1154.76 1190.92L1149.21 1191.23L1143.65 1191.36L1138.09 1191.3L1132.54 1191.08L1126.98 1190.72L1121.42 1190.28L1115.87 1189.81L1110.31 1189.38L1104.76 1189.05L1099.2 1188.87Z" fill="#e4cf9f" opacity="0.5"/><path d="M1099.2 1194.14L1104.76 1193.31L1110.31 1192.58L1115.87 1192.09L1121.42 1191.94L1126.98 1192.14L1132.54 1192.6L1138.09 1193.21L1143.65 1193.79L1149.21 1194.2L1154.76 1194.33L1160.32 1194.15L1165.88 1193.69L1171.43 1193.07L1176.99 1192.43L1182.54 1191.95L1188.1 1191.75L1188.1 1194.2L1182.54 1194.71L1176.99 1195.47L1171.43 1196.32L1165.88 1197.1L1160.32 1197.64L1154.76 1197.82L1149.21 1197.6L1143.65 1197.02L1138.09 1196.21L1132.54 1195.32L1126.98 1194.54L1121.42 1194.01L1115.87 1193.84L1110.31 1194.02L1104.76 1194.51L1099.2 1195.16Z" fill="#c9a673" opacity="0.5"/><path d="M1099.2 1198.4L1104.76 1198.9L1110.31 1199.33L1115.87 1199.6L1121.42 1199.68L1126.98 1199.55L1132.54 1199.22L1138.09 1198.73L1143.65 1198.15L1149.21 1197.57L1154.76 1197.07L1160.32 1196.72L1165.88 1196.57L1171.43 1196.66L1176.99 1196.98L1182.54 1197.48L1188.1 1198.11L1188.1 1199.37L1182.54 1198.9L1176.99 1198.55L1171.43 1198.37L1165.88 1198.41L1160.32 1198.66L1154.76 1199.09L1149.21 1199.65L1143.65 1200.25L1138.09 1200.82L1132.54 1201.26L1126.98 1201.5L1121.42 1201.5L1115.87 1201.36L1110.31 1200.95L1104.76 1200.38L1099.2 1199.71Z" fill="#c49f6a" opacity="0.45"/><path d="M1099.2 1186.18L1104.76 1185.6L1110.31 1185.03L1115.87 1184.57L1121.42 1184.25L1126.98 1184.13L1132.54 1184.2L1138.09 1184.46L1143.65 1184.87L1149.21 1185.36L1154.76 1185.88L1160.32 1186.34L1165.88 1186.69L1171.43 1186.88L1176.99 1186.87L1182.54 1186.67L1188.1 1186.31L1188.1 1187.87L1182.54 1188.25L1176.99 1188.44L1171.43 1188.41L1165.88 1188.18L1160.32 1187.76L1154.76 1187.22L1149.21 1186.61L1143.65 1186L1138.09 1185.49L1132.54 1185.11L1126.98 1184.93L1121.42 1184.95L1115.87 1185.17L1110.31 1185.56L1104.76 1186.06L1099.2 1186.61Z" fill="#cdac78" opacity="0.45"/><path d="M1318 1190.04L1323.47 1189.62L1328.95 1188.96L1334.42 1188.25L1339.9 1187.67L1345.38 1187.38L1350.85 1187.46L1356.33 1187.88L1361.8 1188.52L1367.27 1189.21L1372.75 1189.75L1378.22 1189.97L1383.7 1189.8L1389.17 1189.26L1394.65 1188.47L1400.12 1187.61L1405.6 1186.9L1405.6 1189.35L1400.12 1190.01L1394.65 1190.74L1389.17 1191.36L1383.7 1191.69L1378.22 1191.62L1372.75 1191.15L1367.27 1190.38L1361.8 1189.48L1356.33 1188.67L1350.85 1188.13L1345.38 1187.99L1339.9 1188.29L1334.42 1188.95L1328.95 1189.8L1323.47 1190.65L1318 1191.28Z" fill="#e4cf9f" opacity="0.5"/><path d="M1318 1191.72L1323.47 1191.3L1328.95 1191.37L1334.42 1191.9L1339.9 1192.72L1345.38 1193.61L1350.85 1194.32L1356.33 1194.68L1361.8 1194.61L1367.27 1194.16L1372.75 1193.52L1378.22 1192.89L1383.7 1192.49L1389.17 1192.47L1394.65 1192.84L1400.12 1193.51L1405.6 1194.28L1405.6 1195.32L1400.12 1194.42L1394.65 1193.71L1389.17 1193.41L1383.7 1193.61L1378.22 1194.27L1372.75 1195.22L1367.27 1196.23L1361.8 1197.05L1356.33 1197.47L1350.85 1197.42L1345.38 1196.94L1339.9 1196.19L1334.42 1195.4L1328.95 1194.8L1323.47 1194.56L1318 1194.72Z" fill="#c9a673" opacity="0.5"/><path d="M1318 1198.25L1323.47 1197.55L1328.95 1197.02L1334.42 1196.76L1339.9 1196.82L1345.38 1197.16L1350.85 1197.7L1356.33 1198.34L1361.8 1198.94L1367.27 1199.39L1372.75 1199.58L1378.22 1199.49L1383.7 1199.14L1389.17 1198.6L1394.65 1197.99L1400.12 1197.43L1405.6 1197.05L1405.6 1198.34L1400.12 1198.9L1394.65 1199.64L1389.17 1200.41L1383.7 1201.07L1378.22 1201.5L1372.75 1201.5L1367.27 1201.48L1361.8 1201.02L1356.33 1200.35L1350.85 1199.6L1345.38 1198.92L1339.9 1198.42L1334.42 1198.19L1328.95 1198.26L1323.47 1198.6L1318 1199.15Z" fill="#c49f6a" opacity="0.45"/><path d="M1318 1186L1323.47 1186.49L1328.95 1186.81L1334.42 1186.9L1339.9 1186.75L1345.38 1186.37L1350.85 1185.84L1356.33 1185.23L1361.8 1184.66L1367.27 1184.22L1372.75 1184L1378.22 1184L1383.7 1184.28L1389.17 1184.77L1394.65 1185.42L1400.12 1186.11L1405.6 1186.74L1405.6 1187.26L1400.12 1186.71L1394.65 1186.13L1389.17 1185.6L1383.7 1185.23L1378.22 1185.08L1372.75 1185.18L1367.27 1185.53L1361.8 1186.07L1356.33 1186.72L1350.85 1187.38L1345.38 1187.95L1339.9 1188.32L1334.42 1188.45L1328.95 1188.3L1323.47 1187.91L1318 1187.32Z" fill="#cdac78" opacity="0.45"/>
<path d="M1211 1214.8L1176.8 1286.6M1234.6 1214.8L1221.5 1286.6M1263.5 1214.8L1280.1 1286.6M1295.1 1214.8L1328.8 1286.6" stroke="#737373" stroke-width="1.3" fill="none"/>
<use href="#mount" x="1206.7" y="1185"/>
<use href="#lamp" x="1132.8" y="1286.5"/>
<rect x="1080.9" y="1093.8" width="341.9" height="59.8" fill="#cbc2ba"/>
</g>
<text class="ss" x="84" y="1137.6" font-size="37.33" style="fill:#ffffff;stroke:#ffffff;stroke-width:0.6px" textLength="225.35" lengthAdjust="spacingAndGlyphs">Flush Ceiling</text>
<text class="ss" x="430.64" y="1135.5" font-size="37.33" style="fill:#ffffff;stroke:#ffffff;stroke-width:0.6px" textLength="255.47" lengthAdjust="spacingAndGlyphs">Sloped Ceiling</text>
<text class="ss" x="787.4" y="1133.1" font-size="37.33" style="fill:#ffffff;stroke:#ffffff;stroke-width:0.6px" textLength="222" lengthAdjust="spacingAndGlyphs">Roof's Beam</text>
<text class="ss" x="1115.43" y="1132.3" font-size="37.33" style="fill:#ffffff;stroke:#ffffff;stroke-width:0.6px" textLength="261.47" lengthAdjust="spacingAndGlyphs">Groove Ceiling</text>
</g>
</svg>
</body>
</html>
